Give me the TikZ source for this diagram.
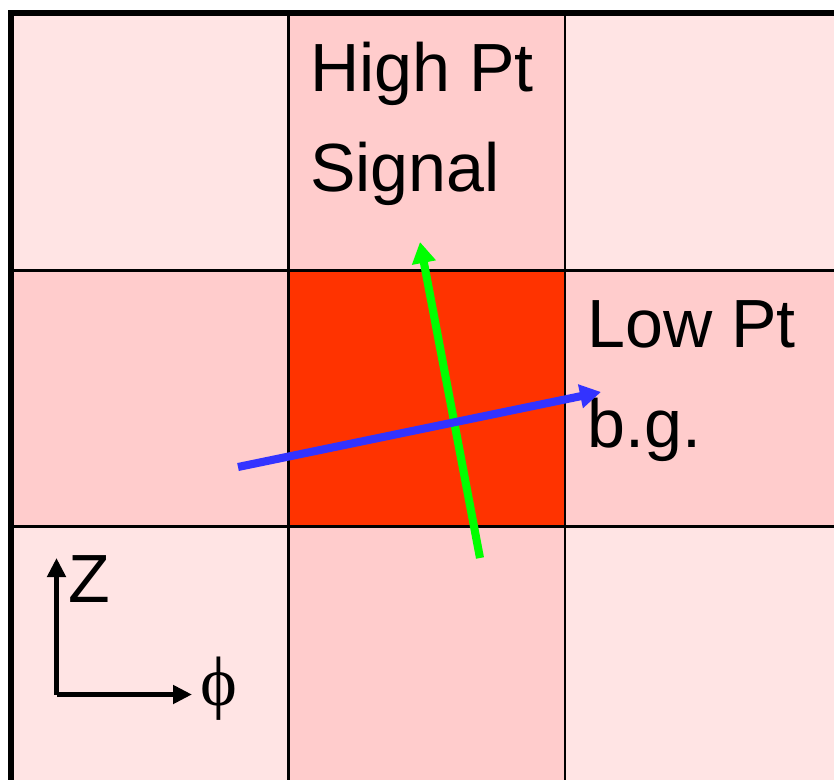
\documentclass[tikz,border=0pt]{standalone}
\usepackage{fontspec}
\setmainfont{Liberation Sans}
\newfontfamily\phifont{Liberation Serif}
\usepackage{tikz}
\usetikzlibrary{arrows.meta,positioning}
\definecolor{CellLight}{HTML}{FFE4E4}
\definecolor{CellMid}{HTML}{FFCCCC}
\definecolor{CellHot}{HTML}{FF3300}
\definecolor{SigGreen}{HTML}{00FF00}
\definecolor{BgBlue}{HTML}{3333FF}
\tikzset{
  cell/.style={draw=black,line width=1.7pt},
  frame/.style={draw=black,line width=3.4pt},
  track/.style={-{Triangle[length=4.2mm,width=4.6mm]},line width=4.6pt},
  axis/.style={-{Triangle[length=3.8mm,width=3.6mm]},line width=3.4pt,draw=black},
  lbl/.style={font=\fontsize{38.8}{48}\selectfont,inner sep=0pt,anchor=base west}
}
\begin{document}
\begin{tikzpicture}[x=1cm,y=1cm]
    \useasboundingbox (0,0) rectangle (16.68,15.58);
    \clip (0,0) rectangle (16.68,15.58);
    % cells, top row first
    \filldraw[cell,fill=CellLight] (0.22,10.17) rectangle (5.77,15.32);
    \filldraw[cell,fill=CellMid] (5.77,10.17) rectangle (11.30,15.32);
    \filldraw[cell,fill=CellLight] (11.30,10.17) rectangle (16.84,15.32);
    \filldraw[cell,fill=CellMid] (0.22,5.05) rectangle (5.77,10.17);
    \filldraw[cell,fill=CellHot] (5.77,5.05) rectangle (11.30,10.17);
    \filldraw[cell,fill=CellMid] (11.30,5.05) rectangle (16.84,10.17);
    \filldraw[cell,fill=CellLight] (0.22,-0.08) rectangle (5.77,5.05);
    \filldraw[cell,fill=CellMid] (5.77,-0.08) rectangle (11.30,5.05);
    \filldraw[cell,fill=CellLight] (11.30,-0.08) rectangle (16.84,5.05);
    \draw[frame] (0.22,-0.5) -- (0.22,15.32) -- (17.2,15.32);
    % labels
    \node[lbl] (hiA) at (6.2,13.75) {High Pt};
    \node[lbl] (hiB) at (6.2,11.75) {Signal};
    \node[lbl] (loA) at (11.74,8.62) {Low Pt};
    \node[lbl] (loB) at (11.74,6.62) {b.g.};
    % tracks
    \coordinate (sigTail) at (9.60,4.42);
    \coordinate (sigTip) at (8.40,10.74);
    \coordinate (bgTail) at (4.76,6.24);
    \coordinate (bgTip) at (12.02,7.74);
    \draw[track,draw=SigGreen,fill=SigGreen] (sigTail)--(sigTip);
    \draw[track,draw=BgBlue,fill=BgBlue] (bgTail)--(bgTip);
    % axes
    \coordinate (axO) at (1.13,1.69);
    \coordinate (axZ) at (1.13,4.42);
    \coordinate (axPhi) at (3.84,1.69);
    \draw[axis] (axO)--(axZ);
    \draw[axis] (axO)--(axPhi);
    \node[lbl] (zlab) at (1.36,3.52) {Z};
    \node[lbl,font=\phifont\fontsize{39.8}{48}\selectfont] (philab) at (4.0,1.48) {ϕ};
  \end{tikzpicture}
\end{document}
